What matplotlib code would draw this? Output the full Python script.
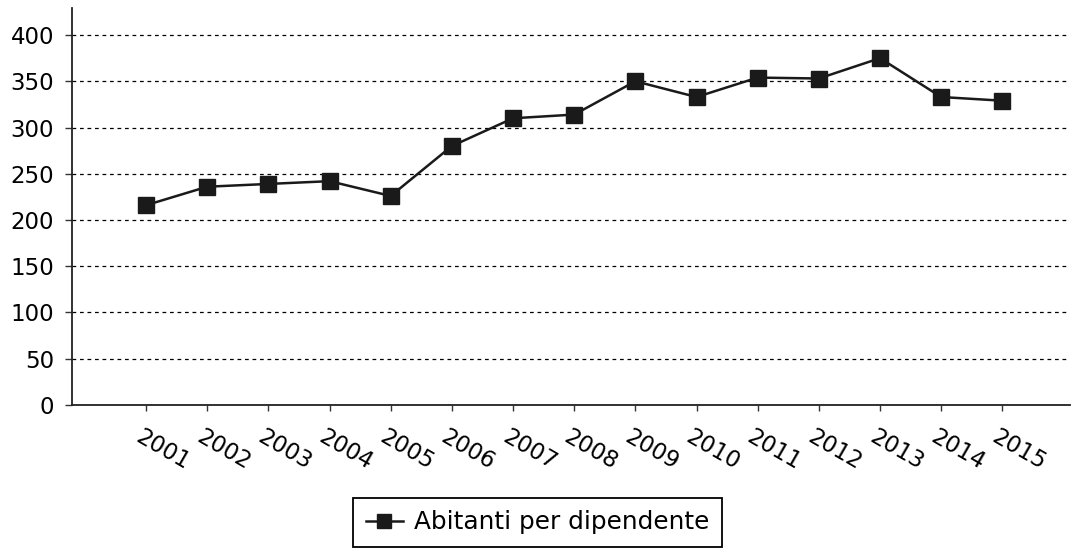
import matplotlib
matplotlib.use('Agg')
import matplotlib.pyplot as plt
import matplotlib.transforms as mtransforms

# data
years = ['2001', '2002', '2003', '2004', '2005', '2006', '2007', '2008',
         '2009', '2010', '2011', '2012', '2013', '2014', '2015']
abitanti = [216, 236, 239, 242, 226, 280, 310, 314,
            350, 333, 354, 353, 375, 333, 329]
series_label = 'Abitanti per dipendente'
y_ticks = [0, 50, 100, 150, 200, 250, 300, 350, 400]

plt.rcParams['font.family'] = 'DejaVu Sans'

fig = plt.figure(figsize=(10.75, 5.48), dpi=100)
ax = fig.add_axes([0.067, 0.261, 0.928, 0.724])

x = list(range(len(years)))
ax.plot(x, abitanti, color='#1a1a1a', linewidth=1.8, marker='s',
        markersize=12, markerfacecolor='#1a1a1a', markeredgecolor='#1a1a1a',
        label=series_label, zorder=3)

ax.set_xlim(-1.21, len(years) - 1 + 1.1)
ax.set_ylim(0, 429)
ax.set_yticks(y_ticks)
ax.set_xticks(x)
ax.set_xticklabels(years, rotation=-30, ha='left', va='top',
                   rotation_mode='anchor', fontsize=16.5)
ax.tick_params(axis='x', length=4, width=1, pad=11, color='#333333')
ax.tick_params(axis='y', length=5, width=1, pad=8, labelsize=16.5,
               color='#333333')

# shift the rotated year labels a little to the left, like the original
shift = mtransforms.ScaledTranslation(-3 / 100, 0, fig.dpi_scale_trans)
for lbl in ax.get_xticklabels():
    lbl.set_transform(lbl.get_transform() + shift)

ax.grid(axis='y', color='black', linestyle=(0, (3, 3)), linewidth=0.9)
ax.set_axisbelow(True)

for side in ['top', 'right']:
    ax.spines[side].set_visible(False)
for side in ['left', 'bottom']:
    ax.spines[side].set_color('#222222')
    ax.spines[side].set_linewidth(1.3)

leg = fig.legend(loc='lower center', bbox_to_anchor=(0.5, 0.0),
                 borderaxespad=0.05, fontsize=17.8, fancybox=False,
                 framealpha=1, edgecolor='black', handlelength=1.5,
                 handletextpad=0.45, borderpad=0.5, markerscale=0.85)
leg.get_frame().set_linewidth(1.3)

fig.savefig('out.png', dpi=100)
